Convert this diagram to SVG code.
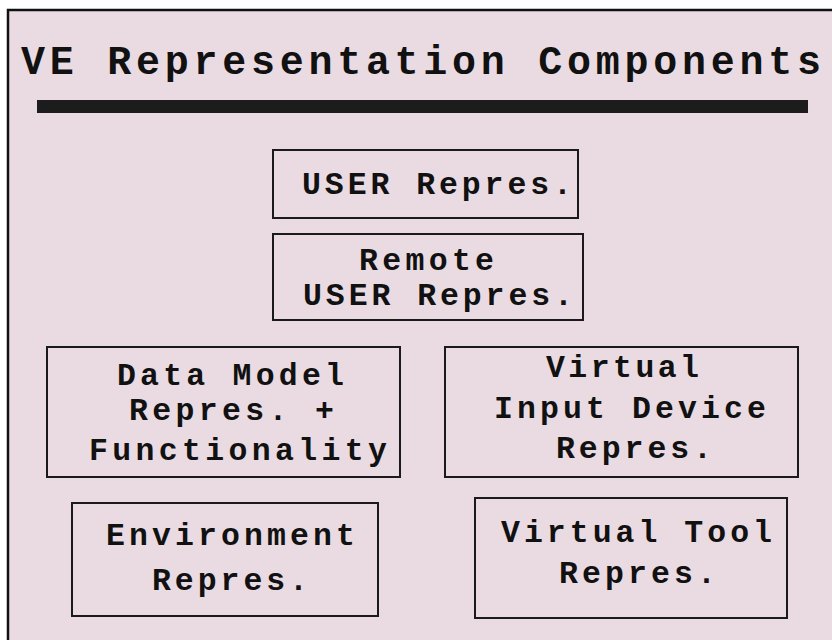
<svg xmlns="http://www.w3.org/2000/svg" width="832" height="640" viewBox="0 0 832 640">
  <style>
    .box { fill: none; stroke: #1a1a1a; stroke-width: 2; }
    .lbl { font-family: "Liberation Mono", "Courier New", monospace; font-weight: bold; font-size: 31.5px; fill: #111; }
    .title { font-family: "Liberation Mono", "Courier New", monospace; font-weight: bold; font-size: 40px; fill: #111; }
  </style>
  <rect x="0" y="0" width="832" height="640" fill="#ffffff"/>
  <!-- slide panel -->
  <rect x="8" y="10" width="830" height="640" fill="#eadbe2" stroke="#111" stroke-width="2.5"/>

  <g id="title">
    <text class="title" x="21" y="74" textLength="800" lengthAdjust="spacing">VE Representation Components</text>
    <rect x="37" y="100" width="771" height="13" fill="#1c1c1c"/>
  </g>

  <g id="user">
    <rect class="box" x="273" y="150" width="305" height="68"/>
    <text class="lbl" x="302" y="194" textLength="270" lengthAdjust="spacing">USER Repres.</text>
  </g>

  <g id="remote-user">
    <rect class="box" x="273" y="234" width="310" height="86"/>
    <text class="lbl" x="359" y="270" textLength="135" lengthAdjust="spacing">Remote</text>
    <text class="lbl" x="303" y="305" textLength="270" lengthAdjust="spacing">USER Repres.</text>
  </g>

  <g id="data-model">
    <rect class="box" x="47" y="347" width="353" height="130"/>
    <text class="lbl" x="117" y="385" textLength="227" lengthAdjust="spacing">Data Model</text>
    <text class="lbl" x="129" y="420" textLength="205" lengthAdjust="spacing">Repres. +</text>
    <text class="lbl" x="89" y="460" textLength="298" lengthAdjust="spacing">Functionality</text>
  </g>

  <g id="input-device">
    <rect class="box" x="445" y="347" width="353" height="130"/>
    <text class="lbl" x="546" y="377" textLength="153" lengthAdjust="spacing">Virtual</text>
    <text class="lbl" x="494" y="418" textLength="272" lengthAdjust="spacing">Input Device</text>
    <text class="lbl" x="556" y="458" textLength="156" lengthAdjust="spacing">Repres.</text>
  </g>

  <g id="environment">
    <rect class="box" x="72" y="503" width="306" height="113"/>
    <text class="lbl" x="106" y="545" textLength="249" lengthAdjust="spacing">Environment</text>
    <text class="lbl" x="152" y="590" textLength="156" lengthAdjust="spacing">Repres.</text>
  </g>

  <g id="virtual-tool">
    <rect class="box" x="475" y="498" width="312" height="120"/>
    <text class="lbl" x="501" y="542" textLength="271" lengthAdjust="spacing">Virtual Tool</text>
    <text class="lbl" x="559" y="583" textLength="157" lengthAdjust="spacing">Repres.</text>
  </g>

  <g id="connectors"/>
</svg>
